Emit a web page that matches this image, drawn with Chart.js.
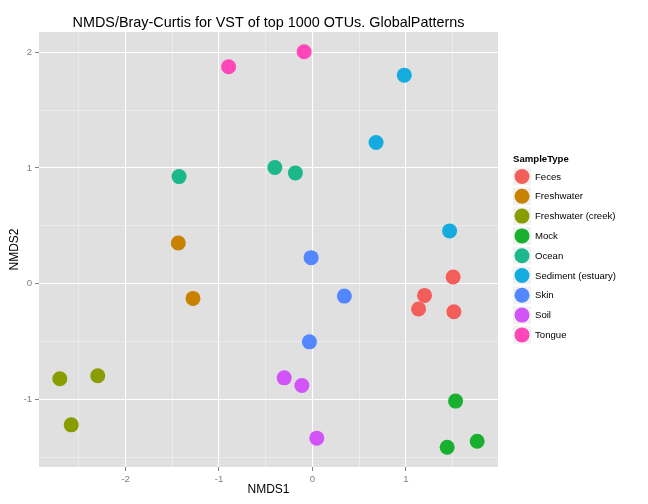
<!DOCTYPE html>
<html>
<head>
<meta charset="utf-8">
<script src="https://cdn.jsdelivr.net/npm/chart.js@4.4.1/dist/chart.umd.min.js"></script>
<style>
  body { margin: 0; background: #fff; }
  canvas { display: block; }
</style>
</head>
<body>
<canvas id="nmdsChart" width="648" height="504"></canvas>
<script>
const sampleTypes = ['Feces', 'Freshwater', 'Freshwater (creek)', 'Mock', 'Ocean',
    'Sediment (estuary)', 'Skin', 'Soil', 'Tongue'];
const typeColors = ['#F45E5A', '#C98100', '#8A9D00', '#18B02E', '#1CB78B',
    '#14ACDE', '#5387FF', '#D254F8', '#FF47B9'];

// NMDS1 / NMDS2 coordinates, one list per sample type
const nmds1 = [
    [1.506, 1.200, 1.136, 1.514],
    [-1.435, -1.278],
    [-2.703, -2.297, -2.581],
    [1.532, 1.442, 1.763],
    [-1.427, -0.402, -0.182],
    [0.983, 0.681, 1.468],
    [-0.014, 0.342, -0.032],
    [-0.302, -0.113, 0.047],
    [-0.897, -0.089]
];
const nmds2 = [
    [0.058, -0.101, -0.219, -0.242],
    [0.352, -0.127],
    [-0.821, -0.795, -1.219],
    [-1.014, -1.412, -1.360],
    [0.925, 1.003, 0.957],
    [1.801, 1.219, 0.456],
    [0.225, -0.107, -0.502],
    [-0.813, -0.879, -1.334],
    [1.874, 2.003]
];

const xTicks = [-2, -1, 0, 1];
const xMinor = [-2.5, -1.5, -0.5, 0.5, 1.5];
const yTicks = [-1, 0, 1, 2];
const yMinor = [-1.5, -0.5, 0.5, 1.5];

const FONT = '"Liberation Sans", Arial, Helvetica, sans-serif';

const datasets = sampleTypes.map((name, i) => ({
    label: name,
    data: nmds1[i].map((x, j) => ({ x: x, y: nmds2[i][j] })),
    backgroundColor: typeColors[i],
    borderWidth: 0,
    pointRadius: 7.5,
    pointHoverRadius: 7.5
}));

function allTicks(major, minor) {
    return major.concat(minor).sort((a, b) => a - b);
}

function gridStyle(major) {
    return {
        color: (c) => major.includes(c.tick.value) ? '#FFFFFF' : '#F2F2F2',
        lineWidth: (c) => major.includes(c.tick.value) ? 1.1 : 0.6,
        tickColor: (c) => major.includes(c.tick.value) ? '#7F7F7F' : 'rgba(0,0,0,0)',
        tickLength: 4,
        tickWidth: 1
    };
}

const panelBg = {
    id: 'panelBg',
    beforeDraw(chart) {
        const { ctx, chartArea: a } = chart;
        ctx.save();
        ctx.fillStyle = '#E0E0E0';
        ctx.fillRect(a.left, a.top, a.right - a.left, a.bottom - a.top);
        ctx.restore();
    }
};

const sideLegend = {
    id: 'sideLegend',
    afterDraw(chart) {
        const { ctx, chartArea: a } = chart;
        const x0 = a.right + 15;
        const mid = (a.top + a.bottom) / 2;
        const pitch = 19.8;
        ctx.save();
        ctx.textBaseline = 'middle';
        ctx.textAlign = 'left';
        ctx.fillStyle = '#000';
        ctx.font = 'bold 9.6px ' + FONT;
        ctx.fillText('SampleType', x0, mid - 90.5);
        sampleTypes.forEach((name, i) => {
            const cy = mid - 73 + i * pitch;
            ctx.fillStyle = '#F2F2F2';
            ctx.fillRect(x0, cy - 8.8, 18, 17.6);
            ctx.fillStyle = typeColors[i];
            ctx.beginPath();
            ctx.arc(x0 + 9, cy, 7.5, 0, Math.PI * 2);
            ctx.fill();
            ctx.fillStyle = '#000';
            ctx.font = '9.6px ' + FONT;
            ctx.fillText(name, x0 + 22, cy + 0.5);
        });
        ctx.restore();
    }
};

new Chart('nmdsChart', {
    type: 'scatter',
    data: { datasets: datasets },
    plugins: [panelBg, sideLegend],
    options: {
        responsive: false,
        animation: false,
        devicePixelRatio: 1,
        layout: { padding: { left: 0, right: 150, top: 0, bottom: 0 } },
        plugins: {
            legend: { display: false },
            tooltip: { enabled: false },
            title: {
                display: true,
                fullSize: false,
                text: 'NMDS/Bray-Curtis for VST of top 1000 OTUs. GlobalPatterns',
                color: '#000',
                font: { family: FONT, size: 14.4, weight: 'normal', lineHeight: 1.2 },
                padding: { top: 14.7, bottom: 0 }
            }
        },
        scales: {
            x: {
                type: 'linear',
                min: -2.926, max: 1.986,
                afterBuildTicks: (s) => { s.ticks = allTicks(xTicks, xMinor).map(v => ({ value: v })); },
                afterFit: (s) => { s.height = 37; },
                border: { display: false },
                grid: gridStyle(xTicks),
                ticks: {
                    autoSkip: false, maxRotation: 0, padding: 3,
                    color: '#7F7F7F',
                    font: { family: FONT, size: 9.6 },
                    callback: (v) => xTicks.includes(v) ? String(v) : ''
                },
                title: {
                    display: true, text: 'NMDS1', color: '#000',
                    font: { family: FONT, size: 12 },
                    padding: { top: 0, bottom: 7.3 }
                }
            },
            y: {
                type: 'linear',
                min: -1.583, max: 2.174,
                afterBuildTicks: (s) => { s.ticks = allTicks(yTicks, yMinor).map(v => ({ value: v })); },
                afterFit: (s) => { s.width = 39; },
                border: { display: false },
                grid: gridStyle(yTicks),
                ticks: {
                    autoSkip: false, padding: 3,
                    color: '#7F7F7F',
                    font: { family: FONT, size: 9.6 },
                    callback: (v) => yTicks.includes(v) ? String(v) : ''
                },
                title: {
                    display: true, text: 'NMDS2', color: '#000',
                    font: { family: FONT, size: 12 },
                    padding: { top: 7.8, bottom: 0 }
                }
            }
        }
    }
});
</script>
</body>
</html>
